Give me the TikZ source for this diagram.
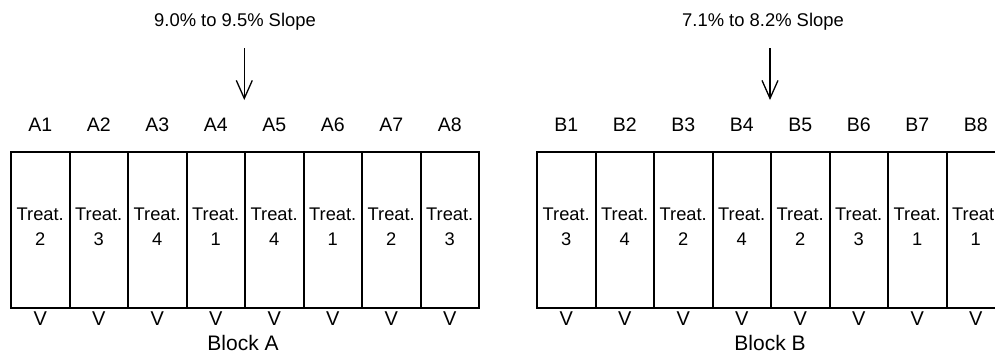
\documentclass[tikz,border=0pt]{standalone}
\usepackage{fontspec}
\setmainfont{Liberation Sans}
\usetikzlibrary{arrows.meta}
\begin{document}
\begin{tikzpicture}[x=1pt,y=-1pt,
  plotbox/.style={draw=black, line width=2pt, minimum width=58.5pt, minimum height=155.5pt, inner sep=0pt, outer sep=0pt},
  treat/.style={align=center, inner sep=0pt, font=\fontsize{18.3}{25.7}\selectfont},
  plotlabel/.style={anchor=base, inner sep=0pt, font=\fontsize{19.5}{20}\selectfont},
  slopetext/.style={anchor=base, inner sep=0pt, font=\fontsize{18.4}{20}\selectfont},
  vmark/.style={anchor=base, inner sep=0pt, font=\fontsize{20}{20}\selectfont},
  blocklabel/.style={anchor=base, inner sep=0pt, font=\fontsize{21}{22}\selectfont},
  slopearrow/.style={line width=1.3pt, -{Straight Barb[length=18pt,width=16pt,line width=1.3pt]}}
]
\useasboundingbox (0,0) rectangle (995,356);
\clip (0,0) rectangle (995,356);
% Block A
\foreach \t [count=\i] in {2,3,4,1,4,1,2,3} {
  \pgfmathsetmacro{\cx}{11+29.25+58.5*(\i-1)}
  \node[plotbox] (A\i) at (\cx,229.75) {};
  \node[treat] (At\i) at (\cx,226.7) {Treat.\\\t};
  \node[plotlabel] (Al\i) at (\cx,131.7) {A\i};
  \node[vmark] (Av\i) at (\cx,325) {V};
}
% Block B
\foreach \t [count=\i] in {3,4,2,4,2,3,1,1} {
  \pgfmathsetmacro{\cx}{537+29.25+58.5*(\i-1)}
  \node[plotbox] (B\i) at (\cx,229.75) {};
  \node[treat] (Bt\i) at (\cx,226.7) {Treat.\\\t};
  \node[plotlabel] (Bl\i) at (\cx,131.7) {B\i};
  \node[vmark] (Bv\i) at (\cx,325) {V};
}
\node[slopetext] (slopeA) at (235,26) {9.0\% to 9.5\% Slope};
\node[slopetext] (slopeB) at (763,26) {7.1\% to 8.2\% Slope};
\coordinate (arA1) at (244.3,48);
\coordinate (arA2) at (244.3,100);
\coordinate (arB1) at (770,48);
\coordinate (arB2) at (770,100);
\draw[slopearrow] (arA1) -- (arA2);
\draw[slopearrow] (arB1) -- (arB2);
\node[blocklabel] (blockA) at (243,350.7) {Block A};
\node[blocklabel] (blockB) at (770,350.7) {Block B};
\end{tikzpicture}
\end{document}
